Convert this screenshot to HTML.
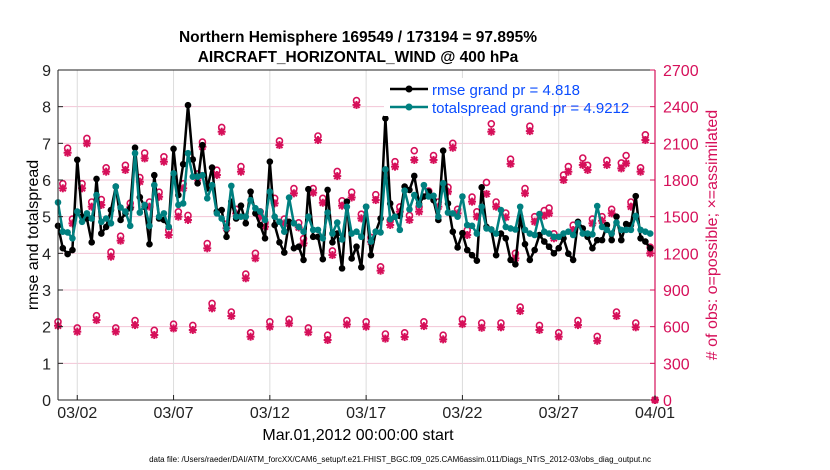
<!DOCTYPE html>
<html><head><meta charset="utf-8"><style>
body{margin:0;background:#fff;}
svg{display:block;font-family:"Liberation Sans",sans-serif;}
</style></head><body>
<svg id="chart" width="830" height="470">
<rect width="830" height="470" fill="#fff"/>
<g id="grid"></g>
<g id="obs"></g>
<g id="series"></g>
<g id="axes"></g>
<text x="358" y="42" text-anchor="middle" font-size="15.5" font-weight="bold">Northern Hemisphere 169549 / 173194 = 97.895%</text>
<text x="358" y="62" text-anchor="middle" font-size="15.5" font-weight="bold">AIRCRAFT_HORIZONTAL_WIND @ 400 hPa</text>
<text transform="translate(38,235) rotate(-90)" text-anchor="middle" font-size="16">rmse and totalspread</text>
<text transform="translate(717,235) rotate(-90)" text-anchor="middle" font-size="16" fill="#d6105a"># of obs: o=possible; ×=assimilated</text>
<text x="358" y="440" text-anchor="middle" font-size="16">Mar.01,2012 00:00:00 start</text>
<text x="400" y="462" text-anchor="middle" font-size="8">data file: /Users/raeder/DAI/ATM_forcXX/CAM6_setup/f.e21.FHIST_BGC.f09_025.CAM6assim.011/Diags_NTrS_2012-03/obs_diag_output.nc</text>
<g>
<rect x="384" y="78" width="166" height="38" fill="#fff"/>
<line x1="390" y1="89" x2="428" y2="89" stroke="#000" stroke-width="2.5"/>
<circle cx="409" cy="89" r="3.5" fill="#000"/>
<text x="432" y="95" font-size="15" fill="#0a4cff">rmse grand pr = 4.818</text>
<line x1="390" y1="107" x2="428" y2="107" stroke="#008080" stroke-width="2.5"/>
<circle cx="409" cy="107" r="3.5" fill="#008080"/>
<text x="432" y="113" font-size="15" fill="#0a4cff">totalspread grand pr = 4.9212</text>
</g>
</svg>
<script>
const rmse=[4.75,4.14,3.98,4.09,6.55,5.0,4.95,4.3,6.03,4.54,4.72,5.18,5.82,4.91,5.09,5.23,6.88,5.53,5.27,4.25,6.13,4.95,4.91,4.72,6.85,5.59,6.43,8.04,6.56,5.91,6.95,5.77,6.34,5.14,5.18,4.45,5.41,4.95,5.3,4.82,5.68,5.09,4.77,4.41,6.5,4.77,4.3,4.02,4.86,4.14,4.18,3.82,5.75,4.45,4.45,3.84,5.73,4.3,4.54,3.59,5.41,3.86,4.18,3.62,5.27,3.95,4.59,4.95,7.68,5.36,5.0,5.02,5.82,5.73,6.11,5.36,5.55,5.68,5.45,4.91,6.8,5.36,4.59,4.16,4.55,4.09,3.95,3.8,5.8,4.72,4.65,3.95,4.54,4.41,3.82,3.7,5.0,4.25,3.82,4.09,4.5,4.32,4.18,4.0,4.14,4.41,3.99,3.82,4.86,4.68,4.45,4.14,4.36,4.36,4.77,4.36,5.0,4.36,4.8,4.77,5.56,4.41,4.32,4.14,null];
const spread=[5.39,4.59,4.57,4.41,5.14,4.86,5.09,4.95,5.59,4.86,4.95,4.82,5.82,5.25,5.14,4.75,6.73,5.11,5.32,4.75,5.86,5.0,5.09,4.72,6.18,5.32,5.36,6.73,6.09,6.09,6.13,5.5,5.86,5.09,4.95,4.68,5.84,5.0,5.0,5.0,5.45,5.23,5.14,4.91,5.68,5.0,4.86,4.59,5.52,4.82,4.72,4.59,5.0,4.64,4.64,4.41,5.11,4.54,4.84,4.38,5.27,4.54,4.59,4.45,5.27,4.32,4.59,4.57,6.29,4.93,5.0,4.64,5.71,5.2,5.59,5.32,5.86,5.55,5.57,5.0,5.91,5.11,5.09,5.0,5.55,4.77,4.75,4.54,5.27,4.68,4.65,4.54,5.18,4.72,4.68,4.65,5.27,4.64,4.54,4.5,5.07,4.59,4.54,4.45,4.45,4.54,4.59,4.5,4.82,4.54,4.54,4.52,5.29,4.72,4.64,4.54,4.84,4.64,4.64,4.64,5.02,4.64,4.59,4.54,null];
const nAssim=[608,1732,2023,1445,559,1732,2099,1582,654,1596,1868,1173,559,1304,1882,1576,613,1786,1977,1582,532,1663,1950,1350,586,1500,1732,1473,573,1814,2072,1241,750,1841,2195,1405,687,1527,1868,996,518,1159,1500,1418,600,1609,2086,1445,627,1691,1412,1282,554,1696,2127,1614,491,1186,1832,1590,618,1657,2414,1486,600,1295,1636,1058,502,1432,1909,1541,516,1473,1964,1541,605,1677,1964,1582,496,1705,2064,1527,621,1350,1623,1500,591,1686,2195,1582,595,1495,1932,1159,728,1691,2200,1459,573,1508,1527,1323,518,1800,1868,1391,613,1923,1882,1445,484,1467,1923,1527,687,1895,1936,1582,595,1868,2127,1200,0];
const nPoss=[640,1770,2060,1480,590,1770,2140,1620,690,1640,1900,1210,590,1340,1920,1610,650,1820,2020,1620,570,1700,1990,1390,620,1540,1770,1510,610,1850,2110,1280,790,1880,2230,1440,720,1560,1910,1030,550,1200,1540,1450,640,1650,2120,1480,660,1730,1450,1320,590,1730,2160,1650,530,1220,1870,1630,650,1700,2450,1520,640,1330,1680,1090,540,1470,1950,1580,550,1510,2040,1580,640,1710,2000,1620,530,1740,2100,1560,660,1390,1660,1540,630,1780,2260,1620,630,1530,1970,1200,760,1730,2240,1500,610,1550,1570,1360,550,1840,1910,1430,650,1980,1920,1480,520,1500,1960,1560,720,1940,2000,1620,630,1900,2170,1250,0];
const leftTicks=[0,1,2,3,4,5,6,7,8,9];
const rightTicks=[0,300,600,900,1200,1500,1800,2100,2400,2700];
const dateTicks=["03/02","03/07","03/12","03/17","03/22","03/27","04/01"];
const dateTickDays=[1,6,11,16,21,26,31];

const NS="http://www.w3.org/2000/svg";
const X0=58,X1=655,Y0=400,Y1=70;
const xS=t=>X0+(X1-X0)*t/31;
const yL=v=>Y0-(Y0-Y1)*v/9;
const yR=v=>Y0-(Y0-Y1)*v/2700;
function mk(tag,attrs,parent){const e=document.createElementNS(NS,tag);for(const k in attrs)e.setAttribute(k,attrs[k]);parent.appendChild(e);return e;}
const grid=document.getElementById('grid'),axes=document.getElementById('axes'),series=document.getElementById('series'),obs=document.getElementById('obs');

rightTicks.forEach((v,i)=>{if(v===0||v===2700)return;const g=mk('line',{x1:X0,x2:X1,y1:yR(v),y2:yR(v),stroke:'#f2c4d6','stroke-width':1},grid);

});
dateTickDays.forEach(d=>{if(d>=31)return;const g=mk('line',{x1:xS(d),x2:xS(d),y1:Y1,y2:Y0,stroke:'#dcdcdc','stroke-width':1},grid);

});

// observation counts
nPoss.forEach((v,i)=>{const c=mk('circle',{cx:xS(i/4),cy:yR(v),r:3,fill:'none',stroke:'#d6105a','stroke-width':1.6},obs);

});
nAssim.forEach((v,i)=>{const x=xS(i/4),y=yR(v),s=4;const g=mk('g',{stroke:'#d6105a','stroke-width':2},obs);


mk('line',{x1:x-s,x2:x+s,y1:y,y2:y},g);mk('line',{x1:x,x2:x,y1:y-s,y2:y+s},g);
mk('line',{x1:x-3,x2:x+3,y1:y-3,y2:y+3},g);mk('line',{x1:x-3,x2:x+3,y1:y+3,y2:y-3},g);});

function drawSeries(arr,color,name){let d='';arr.forEach((v,i)=>{if(v==null)return;d+=(d?'L':'M')+xS(i/4).toFixed(1)+','+yL(v).toFixed(1);});
const p=mk('path',{d:d,fill:'none',stroke:color,'stroke-width':2.5,'stroke-linejoin':'round'},series);


arr.forEach((v,i)=>{if(v==null)return;const c=mk('circle',{cx:xS(i/4),cy:yL(v),r:3.3,fill:color},series);

});}
drawSeries(rmse,'#000','rmse');
drawSeries(spread,'#008080','totalspread');

// axes
let a=mk('line',{x1:X0,x2:X1,y1:Y1,y2:Y1,stroke:'#222','stroke-width':1},axes);


a=mk('line',{x1:X0,x2:X1,y1:Y0,y2:Y0,stroke:'#222','stroke-width':1},axes);


a=mk('line',{x1:X0,x2:X0,y1:Y1,y2:Y0,stroke:'#222','stroke-width':1},axes);


a=mk('line',{x1:X1,x2:X1,y1:Y1,y2:Y0,stroke:'#d6105a','stroke-width':1.2},axes);


leftTicks.forEach(v=>{mk('line',{x1:X0,x2:X0+5,y1:yL(v),y2:yL(v),stroke:'#222'},axes);
const t=mk('text',{x:X0-7,y:yL(v)+6,'text-anchor':'end','font-size':16,fill:'#222'},axes);t.textContent=v;

});
rightTicks.forEach(v=>{mk('line',{x1:X1-5,x2:X1,y1:yR(v),y2:yR(v),stroke:'#d6105a'},axes);
const t=mk('text',{x:X1+8,y:yR(v)+6,'font-size':16,fill:'#d6105a'},axes);t.textContent=v;

});
dateTicks.forEach((lab,i)=>{const x=xS(dateTickDays[i]);mk('line',{x1:x,x2:x,y1:Y0,y2:Y0-5,stroke:'#222'},axes);
const t=mk('text',{x:x,y:418,'text-anchor':'middle','font-size':16,fill:'#222'},axes);t.textContent=lab;

});
</script>
</body></html>
